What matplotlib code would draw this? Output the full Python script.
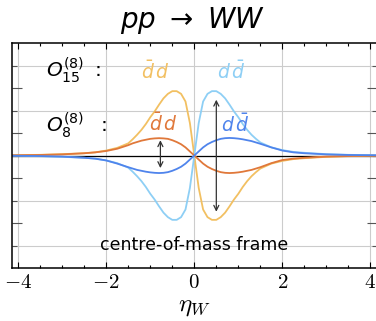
import matplotlib
matplotlib.use('Agg')
import matplotlib.pyplot as plt
from matplotlib.ticker import FixedLocator, MultipleLocator, FuncFormatter, NullFormatter

plt.rcParams['mathtext.fontset'] = 'cm'

# pseudorapidity grid and curve values
eta = [-4.2, -3.5, -3.0, -2.5, -2.25, -2.0, -1.75, -1.5, -1.4, -1.3, -1.2, -1.1,
       -1.0, -0.9, -0.8, -0.7, -0.6, -0.5, -0.4, -0.3, -0.2, -0.1, 0.0,
       0.1, 0.2, 0.3, 0.4, 0.5, 0.6, 0.7, 0.8, 0.9, 1.0, 1.1, 1.2, 1.3, 1.4,
       1.5, 1.75, 2.0, 2.25, 2.5, 3.0, 3.5, 4.2]

# O_15^(8): dbar d (light orange) and d dbar (light blue)
o15_dbard = [0.005, 0.015, 0.03, 0.05, 0.07, 0.11, 0.17, 0.27, 0.36, 0.46, 0.57, 0.70,
             0.85, 0.98, 1.13, 1.27, 1.37, 1.43, 1.43, 1.37, 1.20, 0.72, 0.0,
             -0.72, -1.20, -1.37, -1.43, -1.43, -1.37, -1.27, -1.13, -0.98, -0.85,
             -0.70, -0.57, -0.46, -0.37, -0.29, -0.18, -0.12, -0.08, -0.06, -0.03,
             -0.015, -0.005]
o15_ddbar = [-0.005, -0.015, -0.03, -0.05, -0.07, -0.11, -0.17, -0.27, -0.36, -0.46,
             -0.57, -0.70, -0.85, -0.98, -1.13, -1.27, -1.37, -1.43, -1.43, -1.37,
             -1.20, -0.72, 0.0, 0.72, 1.20, 1.37, 1.43, 1.43, 1.37, 1.27, 1.13, 0.98,
             0.85, 0.70, 0.57, 0.46, 0.37, 0.29, 0.18, 0.12, 0.08, 0.06, 0.03,
             0.015, 0.005]

# O_8^(8): dbar d (dark orange) and d dbar (dark blue)
o8_dbard = [0.004, 0.012, 0.025, 0.05, 0.07, 0.10, 0.15, 0.23, 0.27, 0.30, 0.33, 0.35,
            0.37, 0.38, 0.385, 0.38, 0.37, 0.34, 0.30, 0.25, 0.18, 0.09, 0.0,
            -0.09, -0.18, -0.25, -0.30, -0.34, -0.37, -0.385, -0.39, -0.385, -0.375,
            -0.36, -0.34, -0.32, -0.29, -0.26, -0.17, -0.10, -0.07, -0.05, -0.025,
            -0.012, -0.004]
o8_ddbar = [-0.004, -0.012, -0.025, -0.05, -0.07, -0.11, -0.18, -0.26, -0.29, -0.32,
            -0.34, -0.36, -0.375, -0.385, -0.39, -0.385, -0.37, -0.34, -0.30, -0.25,
            -0.18, -0.09, 0.0, 0.09, 0.18, 0.25, 0.30, 0.34, 0.37, 0.385, 0.39, 0.385,
            0.375, 0.36, 0.34, 0.32, 0.29, 0.26, 0.18, 0.11, 0.07, 0.05, 0.025,
            0.012, 0.004]

# double arrows: position, top, bottom
arrow_eta = [-0.77, 0.5]
arrow_top = [0.34, 1.24]
arrow_bottom = [-0.28, -1.25]

c_lorange = '#F2C062'
c_dorange = '#E0783A'
c_lblue = '#8ECFF5'
c_dblue = '#4F84EC'

fig = plt.figure(figsize=(3.76, 3.21), dpi=100)
ax = fig.add_axes([12 / 376, 53 / 321, 364.6 / 376, 225 / 321])

ax.axhline(0, color='black', lw=0.9, zorder=1.5)
ax.plot(eta, o15_dbard, color=c_lorange, lw=1.3, zorder=2)
ax.plot(eta, o15_ddbar, color=c_lblue, lw=1.3, zorder=2)
ax.plot(eta, o8_dbard, color=c_dorange, lw=1.3, zorder=2.1)
ax.plot(eta, o8_ddbar, color=c_dblue, lw=1.3, zorder=2.1)

for xa, yt, yb in zip(arrow_eta, arrow_top, arrow_bottom):
    ax.annotate('', xy=(xa, yt), xytext=(xa, yb),
                arrowprops=dict(arrowstyle='<->', color='#333333', lw=0.9,
                                shrinkA=0, shrinkB=0, mutation_scale=9),
                zorder=3)

# labels
ax.text(-3.36, 1.89, r'$O_{15}^{(8)}\ :$', fontsize=14.5, ha='left', va='center',
        math_fontfamily='dejavusans')
ax.text(-3.36, 0.67, r'$O_{8}^{(8)}\ \ :$', fontsize=14.5, ha='left', va='center',
        math_fontfamily='dejavusans')
ax.text(-0.88, 1.87, r'$\bar{d}\,d$', fontsize=13.5, color=c_lorange, ha='center',
        va='center', math_fontfamily='dejavusans')
ax.text(0.85, 1.87, r'$d\,\bar{d}$', fontsize=13.5, color=c_lblue, ha='center',
        va='center', math_fontfamily='dejavusans')
ax.text(-0.7, 0.71, r'$\bar{d}\,d$', fontsize=13.5, color=c_dorange, ha='center',
        va='center', math_fontfamily='dejavusans')
ax.text(0.93, 0.69, r'$d\,\bar{d}$', fontsize=13.5, color=c_dblue, ha='center',
        va='center', math_fontfamily='dejavusans')
ax.text(0.0, -2.0, 'centre-of-mass frame', fontsize=12.5, ha='center', va='center')

fig.text(192.5 / 376, 1 - 21 / 321, r'$pp\ \rightarrow\ WW$', fontsize=20,
         ha='center', va='center', math_fontfamily='dejavusans')

ax.set_xlim(-4.14, 4.14)
ax.set_ylim(-2.5, 2.5)

ax.xaxis.set_major_locator(FixedLocator([-4, -2, 0, 2, 4]))
ax.xaxis.set_minor_locator(MultipleLocator(0.5))
ax.xaxis.set_major_formatter(FuncFormatter(lambda v, p: f'${v:g}$'))
ax.yaxis.set_major_locator(FixedLocator([-1.5, -0.5, 0.5, 1.5]))
ax.yaxis.set_minor_locator(FixedLocator([-2, -1, 0, 1, 2]))
ax.yaxis.set_major_formatter(NullFormatter())

ax.tick_params(axis='x', which='both', direction='in', top=True, bottom=True,
               labelsize=15, pad=3, colors='black')
ax.tick_params(axis='x', which='major', length=4, width=0.8)
ax.tick_params(axis='x', which='minor', length=2.5, width=0.8)
ax.tick_params(axis='y', which='both', direction='in', left=True, right=True,
               color='#555555')
ax.tick_params(axis='y', which='major', length=7, width=0.8)
ax.tick_params(axis='y', which='minor', length=3.5, width=0.8)

ax.grid(True, which='major', axis='x', color='#cccccc', lw=0.8)
ax.grid(True, which='minor', axis='y', color='#cccccc', lw=0.8)
ax.set_axisbelow(True)

for s in ax.spines.values():
    s.set_linewidth(1.1)

ax.set_xlabel(r'$\eta_W$', fontsize=18, labelpad=1)

fig.savefig('out.png', dpi=100)
